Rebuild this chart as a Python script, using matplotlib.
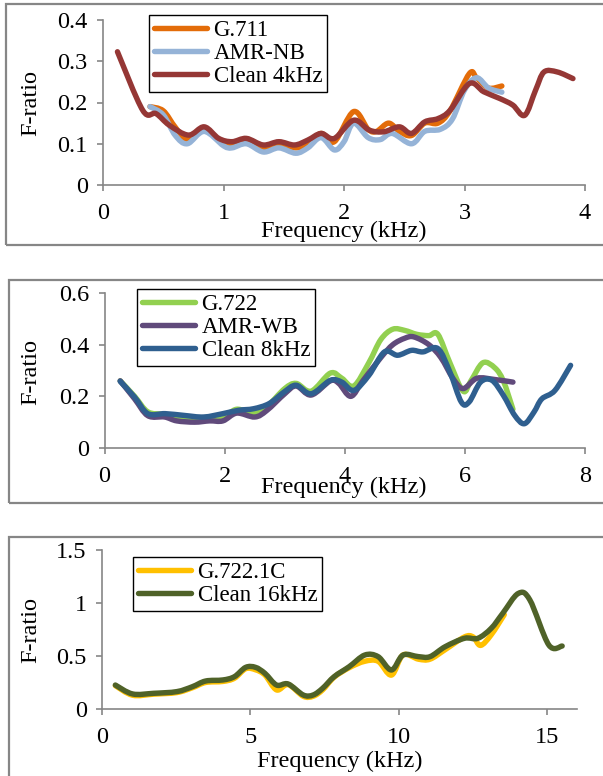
import matplotlib
matplotlib.use("Agg")
import matplotlib.pyplot as plt
from matplotlib.patches import Rectangle, PathPatch
from matplotlib.path import Path

plt.rcParams['font.family'] = ['Liberation Serif', 'DejaVu Serif']

# ---- Panel 1 data (narrowband) ----
g711_x = [0.39, 0.5, 0.6, 0.7, 0.84, 0.96, 1.07, 1.19, 1.33, 1.46, 1.6, 1.7, 1.81, 1.92, 2.08, 2.2, 2.27, 2.37, 2.46, 2.56, 2.67, 2.78, 2.88, 3.04, 3.1, 3.2, 3.31]
g711_y = [0.19, 0.18, 0.14, 0.11, 0.135, 0.11, 0.10, 0.11, 0.09, 0.10, 0.09, 0.10, 0.125, 0.105, 0.178, 0.135, 0.13, 0.15, 0.13, 0.12, 0.15, 0.15, 0.18, 0.27, 0.26, 0.235, 0.24]
amrnb_x = [0.39, 0.5, 0.6, 0.7, 0.84, 1.0, 1.07, 1.19, 1.33, 1.46, 1.6, 1.7, 1.81, 1.92, 2.0, 2.08, 2.2, 2.3, 2.4, 2.56, 2.67, 2.8, 2.9, 3.0, 3.1, 3.2, 3.31]
amrnb_y = [0.19, 0.17, 0.12, 0.10, 0.13, 0.095, 0.09, 0.10, 0.08, 0.09, 0.077, 0.09, 0.115, 0.085, 0.105, 0.15, 0.115, 0.11, 0.125, 0.10, 0.13, 0.135, 0.16, 0.23, 0.26, 0.235, 0.225]
clean4_x = [0.12, 0.33, 0.44, 0.55, 0.71, 0.84, 0.96, 1.07, 1.19, 1.33, 1.46, 1.59, 1.70, 1.81, 1.92, 2.08, 2.21, 2.33, 2.46, 2.56, 2.67, 2.78, 2.88, 3.04, 3.16, 3.29, 3.40, 3.50, 3.59, 3.66, 3.77, 3.90]
clean4_y = [0.323, 0.181, 0.173, 0.145, 0.121, 0.141, 0.113, 0.105, 0.113, 0.097, 0.105, 0.097, 0.109, 0.125, 0.113, 0.157, 0.133, 0.129, 0.141, 0.125, 0.153, 0.161, 0.181, 0.246, 0.226, 0.21, 0.194, 0.169, 0.23, 0.274, 0.274, 0.258]

# ---- Panel 2 data (wideband) ----
g722_x = [0.26, 0.5, 0.72, 1.0, 1.33, 1.65, 1.97, 2.2, 2.48, 2.7, 3.0, 3.19, 3.44, 3.76, 3.95, 4.15, 4.4, 4.6, 4.8, 5.0, 5.2, 5.4, 5.55, 5.75, 5.97, 6.1, 6.3, 6.5, 6.64, 6.8]
g722_y = [0.26, 0.2, 0.14, 0.13, 0.115, 0.115, 0.12, 0.15, 0.135, 0.16, 0.23, 0.25, 0.22, 0.29, 0.27, 0.24, 0.33, 0.42, 0.46, 0.455, 0.44, 0.435, 0.44, 0.33, 0.22, 0.26, 0.33, 0.31, 0.26, 0.15]
amrwb_x = [0.26, 0.5, 0.72, 1.0, 1.2, 1.5, 1.75, 1.97, 2.2, 2.5, 2.7, 3.0, 3.19, 3.44, 3.76, 3.9, 4.1, 4.3, 4.6, 4.8, 5.0, 5.15, 5.4, 5.6, 5.8, 5.97, 6.2, 6.5, 6.8]
amrwb_y = [0.26, 0.19, 0.125, 0.12, 0.105, 0.1, 0.105, 0.105, 0.135, 0.12, 0.145, 0.21, 0.24, 0.205, 0.26, 0.25, 0.20, 0.26, 0.35, 0.40, 0.425, 0.43, 0.40, 0.35, 0.27, 0.23, 0.27, 0.265, 0.255]
clean8_x = [0.26, 0.50, 0.72, 1.01, 1.33, 1.65, 1.97, 2.23, 2.48, 2.74, 2.99, 3.19, 3.44, 3.76, 3.95, 4.15, 4.40, 4.66, 4.88, 5.11, 5.30, 5.55, 5.75, 5.94, 6.07, 6.26, 6.45, 6.64, 6.83, 6.99, 7.15, 7.28, 7.5, 7.76]
clean8_y = [0.258, 0.197, 0.133, 0.133, 0.126, 0.12, 0.133, 0.146, 0.152, 0.172, 0.217, 0.243, 0.21, 0.262, 0.255, 0.223, 0.281, 0.372, 0.359, 0.378, 0.372, 0.385, 0.294, 0.178, 0.178, 0.255, 0.262, 0.204, 0.126, 0.094, 0.139, 0.19, 0.223, 0.32]

# ---- Panel 3 data (superwideband) ----
g7221c_x = [0.45, 1.03, 1.74, 2.52, 3.04, 3.49, 4.07, 4.46, 4.84, 5.17, 5.49, 5.88, 6.27, 6.78, 7.11, 7.43, 7.82, 8.33, 8.85, 9.3, 9.75, 10.14, 10.66, 11.05, 11.56, 12.21, 12.5, 12.75, 13.11, 13.55]
g7221c_y = [0.22, 0.13, 0.14, 0.155, 0.2, 0.25, 0.26, 0.29, 0.38, 0.37, 0.32, 0.18, 0.23, 0.12, 0.12, 0.18, 0.30, 0.39, 0.45, 0.45, 0.32, 0.51, 0.47, 0.47, 0.56, 0.68, 0.68, 0.6, 0.70, 0.89]
clean16_x = [0.45, 1.03, 1.74, 2.52, 3.04, 3.49, 4.07, 4.46, 4.84, 5.17, 5.49, 5.88, 6.27, 6.78, 7.11, 7.43, 7.82, 8.33, 8.85, 9.30, 9.75, 10.14, 10.66, 11.05, 11.56, 12.21, 12.66, 13.11, 13.50, 14.02, 14.41, 15.05, 15.5]
clean16_y = [0.226, 0.142, 0.148, 0.164, 0.21, 0.264, 0.274, 0.305, 0.393, 0.393, 0.336, 0.226, 0.236, 0.132, 0.132, 0.195, 0.305, 0.40, 0.509, 0.494, 0.368, 0.509, 0.494, 0.494, 0.588, 0.667, 0.667, 0.761, 0.903, 1.09, 1.03, 0.604, 0.594]

W, H = 603, 776
fig = plt.figure(figsize=(W / 100, H / 100), dpi=100)

def fx(px):
    return px / W

def fy(py):
    return 1 - py / H

GRAY = '#868686'
FS = 17.5
LFS = 16.5

# panel frames
for (x0, y0, x1, y1) in [(6, 4, 620, 245), (9, 280, 620, 503), (9, 537, 620, 800)]:
    fig.add_artist(Rectangle((fx(x0), fy(y1)), fx(x1 - x0), (y1 - y0) / H,
                             transform=fig.transFigure, fill=False,
                             edgecolor=GRAY, linewidth=1.6))

def setup(ax, xlim, xticks, ylim, yticks):
    ax.set_xlim(*xlim)
    ax.set_ylim(*ylim)
    ax.set_xticks(xticks)
    ax.set_yticks(yticks)
    ax.set_xticklabels([f"{t:g}" for t in xticks])
    ax.set_yticklabels([f"{t:g}" for t in yticks])
    for s in ['top', 'right']:
        ax.spines[s].set_visible(False)
    for s in ['left', 'bottom']:
        ax.spines[s].set_color(GRAY)
        ax.spines[s].set_linewidth(1.2)
    ax.tick_params(axis='both', direction='out', length=4, width=1.2,
                   color=GRAY, labelsize=FS)
    ax.tick_params(axis='y', pad=7)
    ax.tick_params(axis='x', pad=9)
    ax.patch.set_alpha(0)

def legend(ax, box):
    x0, y0, x1, y1 = box
    leg = ax.legend(loc='upper left', bbox_to_anchor=(fx(x0), fy(y0)),
                    bbox_transform=fig.transFigure, fontsize=LFS,
                    frameon=True, fancybox=False, edgecolor='black',
                    handlelength=2.3, handletextpad=0.3, labelspacing=0.08,
                    borderpad=0.22, borderaxespad=0)
    leg.get_frame().set_linewidth(1.0)
    leg.get_frame().set_alpha(1)

LW = 3.9

def smooth_line(ax, xs, ys, color, label):
    """Excel-style smoothed line: Catmull-Rom segments as cubic Beziers."""
    pts = list(zip(xs, ys))
    n = len(pts)
    verts = [pts[0]]
    codes = [Path.MOVETO]
    for i in range(n - 1):
        p0 = pts[i - 1] if i > 0 else pts[i]
        p1 = pts[i]
        p2 = pts[i + 1]
        p3 = pts[i + 2] if i + 2 < n else pts[i + 1]
        c1 = (p1[0] + (p2[0] - p0[0]) / 6, p1[1] + (p2[1] - p0[1]) / 6)
        c2 = (p2[0] - (p3[0] - p1[0]) / 6, p2[1] - (p3[1] - p1[1]) / 6)
        verts += [c1, c2, p2]
        codes += [Path.CURVE4] * 3
    patch = PathPatch(Path(verts, codes), fill=False, edgecolor=color,
                      linewidth=LW, capstyle='round', joinstyle='round')
    ax.add_patch(patch)
    ax.plot([], [], color=color, linewidth=LW, solid_capstyle='round', label=label)

# ---- Panel 1 ----
ax1 = fig.add_axes([fx(103), fy(185), fx(585 - 103), (185 - 20) / H])
smooth_line(ax1, g711_x, g711_y, '#E36C09', 'G.711')
smooth_line(ax1, amrnb_x, amrnb_y, '#95B3D7', 'AMR-NB')
smooth_line(ax1, clean4_x, clean4_y, '#953735', 'Clean 4kHz')
setup(ax1, (0, 4), [0, 1, 2, 3, 4], (0, 0.4), [0, 0.1, 0.2, 0.3, 0.4])
legend(ax1, (149, 15, 348, 90))
fig.text(fx(344), fy(231), 'Frequency (kHz)', ha='center', va='center', fontsize=FS)
fig.text(fx(31), fy(103), 'F-ratio', ha='center', va='center', rotation=90, fontsize=FS)

# ---- Panel 2 ----
ax2 = fig.add_axes([fx(104.6), fy(448), fx(585 - 104.6), (448 - 293) / H])
smooth_line(ax2, g722_x, g722_y, '#92D050', 'G.722')
smooth_line(ax2, amrwb_x, amrwb_y, '#604A7B', 'AMR-WB')
smooth_line(ax2, clean8_x, clean8_y, '#2F5F8F', 'Clean 8kHz')
setup(ax2, (0, 8), [0, 2, 4, 6, 8], (0, 0.6), [0, 0.2, 0.4, 0.6])
legend(ax2, (137, 289, 335, 364))
fig.text(fx(344), fy(487), 'Frequency (kHz)', ha='center', va='center', fontsize=FS)
fig.text(fx(31), fy(372), 'F-ratio', ha='center', va='center', rotation=90, fontsize=FS)

# ---- Panel 3 ----
ax3 = fig.add_axes([fx(102), fy(709), fx(577 - 102), (709 - 550) / H])
smooth_line(ax3, g7221c_x, g7221c_y, '#FFC000', 'G.722.1C')
smooth_line(ax3, clean16_x, clean16_y, '#4F6228', 'Clean 16kHz')
setup(ax3, (0, 16), [0, 5, 10, 15], (0, 1.5), [0, 0.5, 1, 1.5])
legend(ax3, (133, 557, 348, 613))
fig.text(fx(340), fy(761), 'Frequency (kHz)', ha='center', va='center', fontsize=FS)
fig.text(fx(31), fy(630), 'F-ratio', ha='center', va='center', rotation=90, fontsize=FS)

fig.savefig('out.png', dpi=100)
